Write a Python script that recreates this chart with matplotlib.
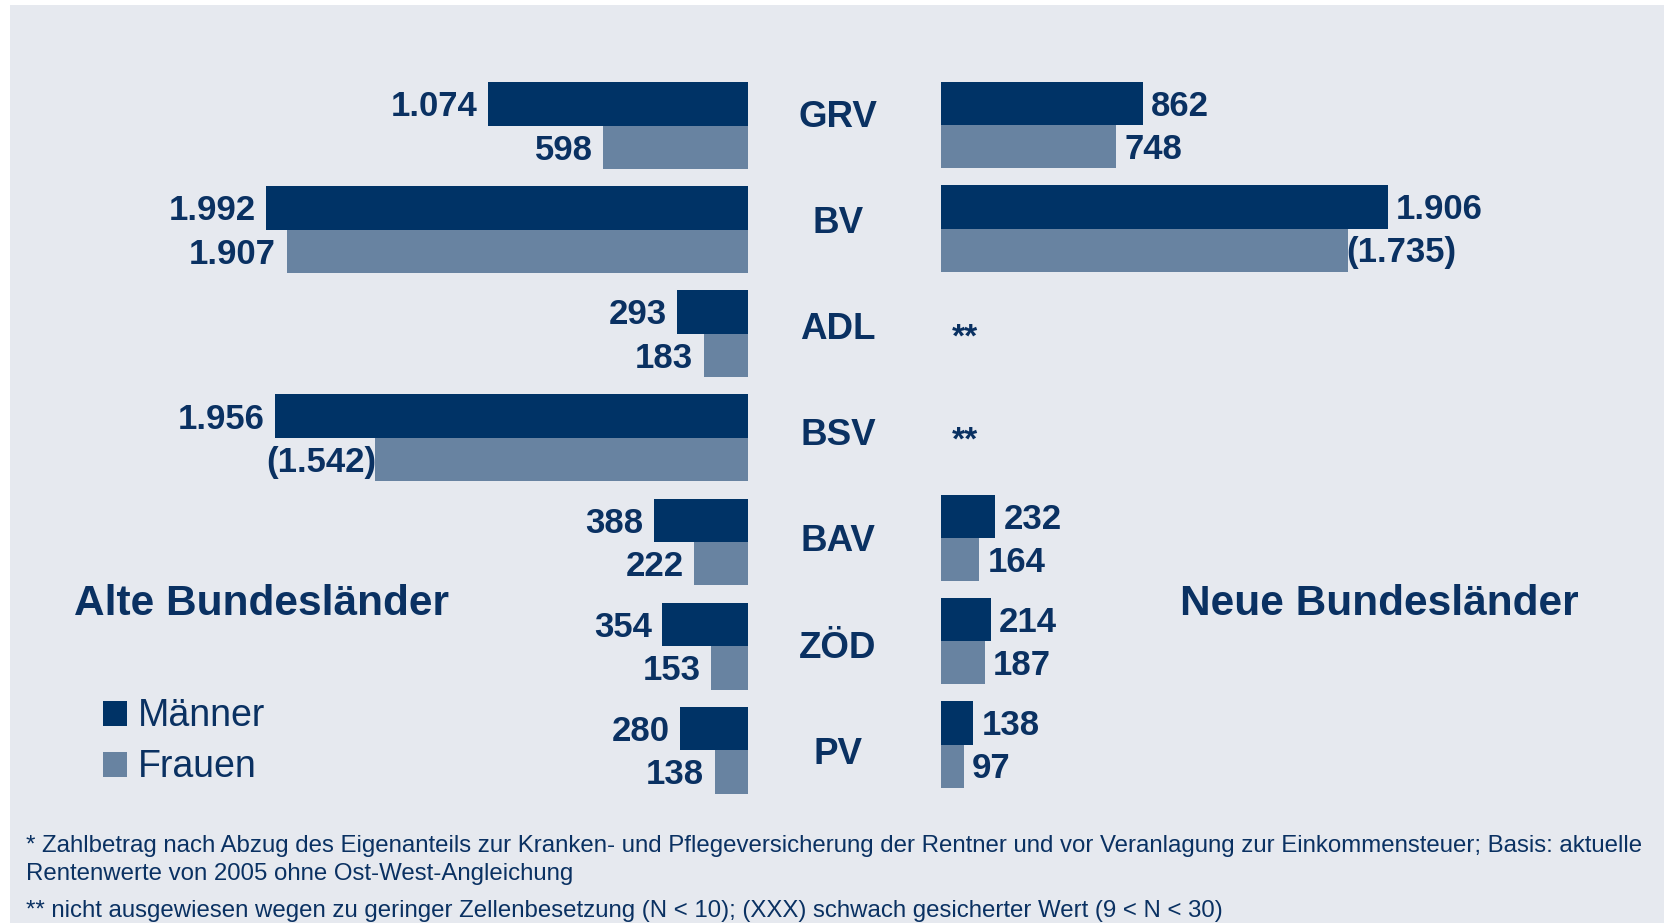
import matplotlib
matplotlib.use("Agg")
import matplotlib.pyplot as plt
from matplotlib.patches import Rectangle

# ---------------- data ----------------
categories = ["GRV", "BV", "ADL", "BSV", "BAV", "ZÖD", "PV"]
west_maenner = [1074, 1992, 293, 1956, 388, 354, 280]
west_frauen = [598, 1907, 183, 1542, 222, 153, 138]
west_frauen_weak = [False, False, False, True, False, False, False]
east_maenner = [862, 1906, None, None, 232, 214, 138]
east_frauen = [748, 1735, None, None, 164, 187, 97]
east_frauen_weak = [False, True, False, False, False, False, False]
series_labels = ["Männer", "Frauen"]
region_titles = ["Alte Bundesländer", "Neue Bundesländer"]
missing_mark = "**"
footnotes = [
    "* Zahlbetrag nach Abzug des Eigenanteils zur Kranken- und Pflegeversicherung der Rentner und vor Veranlagung zur Einkommensteuer; Basis: aktuelle",
    "Rentenwerte von 2005 ohne Ost-West-Angleichung",
    "** nicht ausgewiesen wegen zu geringer Zellenbesetzung (N < 10); (XXX) schwach gesicherter Wert (9 < N < 30)",
]

# ---------------- style ----------------
W, H, DPI = 1664, 923, 100
BG = "#e6e9ef"
DARK = "#003366"
LIGHT = "#6883a1"
TXT = "#0a3162"
plt.rcParams["font.family"] = ["Liberation Sans", "DejaVu Sans"]

fig = plt.figure(figsize=(W / DPI, H / DPI), dpi=DPI)
fig.patch.set_facecolor("white")
fig.add_artist(Rectangle((10 / W, 0), (W - 10) / W, (H - 5) / H,
                         transform=fig.transFigure, color=BG, zorder=-5, lw=0))


def px_axes(x0, top, x1, bottom):
    ax = fig.add_axes([x0 / W, 1 - bottom / H, (x1 - x0) / W, (bottom - top) / H])
    ax.set_facecolor("none")
    ax.axis("off")
    return ax


def fmt(v):
    return f"{v:,}".replace(",", ".")


PT = 0.72  # points per pixel at 100 dpi
VAL_FS = 25
CAP_HALF = 0.716 * VAL_FS / PT / 2  # half cap height in px


def draw_panel(ax, men, women, weak, side):
    ypos = list(range(len(categories)))
    h = 0.417
    for i in ypos:
        for k, (vals, col) in enumerate(((men, DARK), (women, LIGHT))):
            v = vals[i]
            yc = i - h / 2 if k == 0 else i + h / 2
            if v is None:
                continue
            ax.barh(yc, v, height=h, color=col, lw=0)
            txt = fmt(v)
            gap = 10.5 if side == "left" else 8.0
            if k == 1 and weak[i]:
                txt = f"({txt})"
                gap = -1.5
            dx = -gap if side == "left" else gap
            ax.annotate(txt, xy=(v, yc), xytext=(dx * PT, -CAP_HALF * PT),
                        textcoords="offset points",
                        ha="right" if side == "left" else "left", va="baseline",
                        fontsize=VAL_FS, fontweight="bold", color=TXT)
        if men[i] is None and women[i] is None:
            ax.annotate(missing_mark, xy=(0, i), xytext=(11 * PT, -15 * PT),
                        textcoords="offset points", ha="left", va="baseline",
                        fontsize=24, fontweight="bold", color=TXT)


# left panel (Alte Bundesländer)
top, bottom = 40, 800
axL = px_axes(10, top, 748, bottom)
r0, rs = 125.5, 104.13
axL.set_ylim((bottom - r0) / rs, (top - r0) / rs)
axL.set_xlim((748 - 10) / 0.242, 0)
draw_panel(axL, west_maenner, west_frauen, west_frauen_weak, "left")

# right panel (Neue Bundesländer)
axR = px_axes(941, top, W, bottom)
r0, rs = 125.3, 103.2
axR.set_ylim((bottom - r0) / rs, (top - r0) / rs)
axR.set_xlim(0, (W - 941) / 0.2345)
draw_panel(axR, east_maenner, east_frauen, east_frauen_weak, "right")

# category labels in the middle
for i, cat in enumerate(categories):
    fig.text(838 / W, 1 - (127 + 106.1 * i) / H, cat, ha="center", va="baseline",
             fontsize=26.5, fontweight="bold", color=TXT)

# region titles
fig.text(261.6 / W, 1 - 615 / H, region_titles[0], ha="center", va="baseline",
         fontsize=30.5, fontweight="bold", color=TXT)
fig.text(1379 / W, 1 - 615 / H, region_titles[1], ha="center", va="baseline",
         fontsize=30.5, fontweight="bold", color=TXT)

# legend
for j, (lab, col) in enumerate(zip(series_labels, (DARK, LIGHT))):
    ytop = 701 + 51 * j
    fig.add_artist(Rectangle((103 / W, 1 - (ytop + 25) / H), 24 / W, 25 / H,
                             transform=fig.transFigure, color=col, lw=0))
    fig.text(138 / W, 1 - (ytop + 25) / H, lab, ha="left", va="baseline",
             fontsize=27, color=TXT)

# footnotes
for line, base in zip(footnotes, (852, 880, 917)):
    fig.text(26 / W, 1 - base / H, line, ha="left", va="baseline",
             fontsize=17.25, color=TXT)

fig.savefig("out.png", dpi=DPI, facecolor=fig.get_facecolor())
